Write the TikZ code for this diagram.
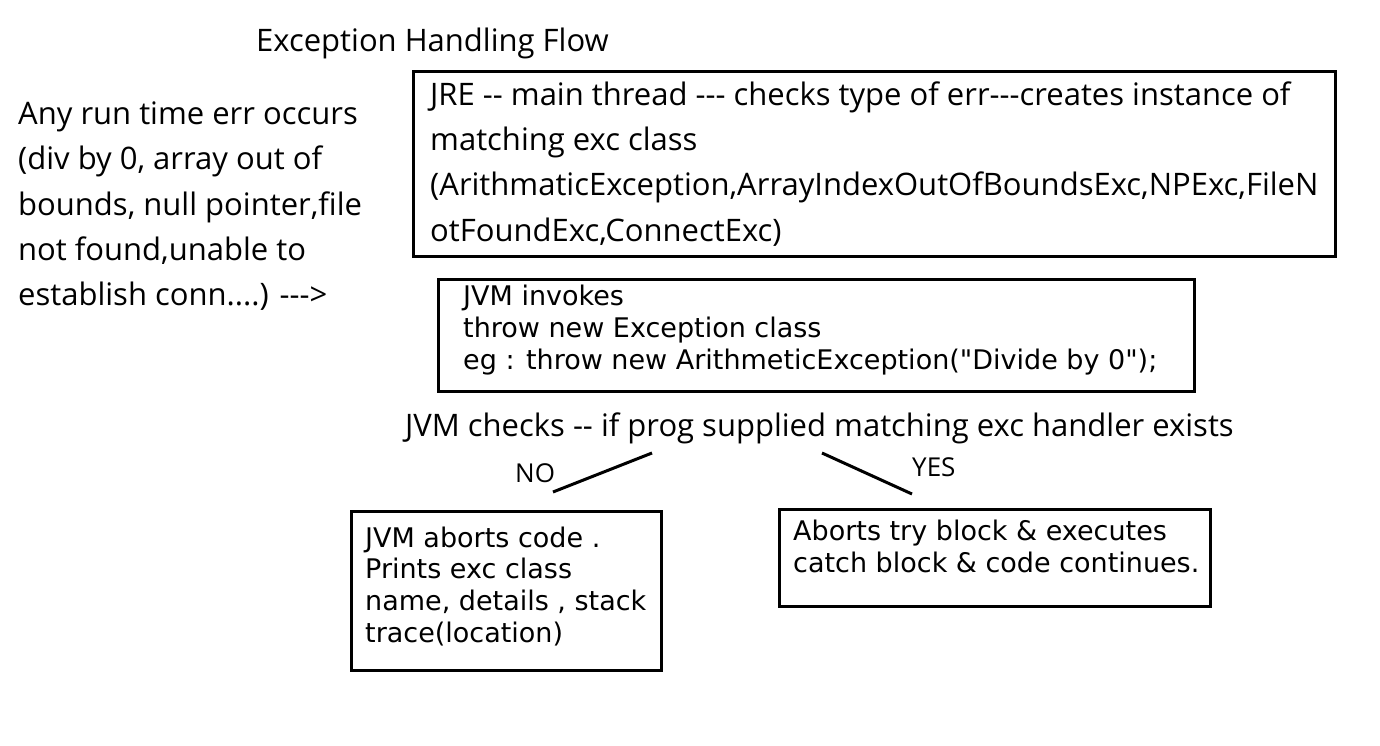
\documentclass[tikz,border=0pt]{standalone}
\usepackage{fontspec}
\setmainfont{Open Sans}[Ligatures=TeXOff]
\newfontfamily\vfont{DejaVu Sans}[Ligatures=TeXOff]
\tikzset{
  big/.style={font=\fontsize{31}{38}\selectfont, anchor=base west, inner sep=0pt},
  lbl/.style={font=\fontsize{26}{30}\selectfont, anchor=base west, inner sep=0pt},
  small/.style={font=\vfont\fontsize{27}{32}\selectfont, anchor=base west, inner sep=0pt},
  boxst/.style={draw, line width=3pt, anchor=north west, inner sep=0pt},
  link/.style={line width=3pt}
}
\begin{document}
\begin{tikzpicture}[x=1pt,y=-1pt]
\useasboundingbox (0,0) rectangle (1380,746);
% title
\node[big] (title) at (256,52) {Exception Handling Flow};
% left text
\node[big] (l1) at (18,125) {Any run time err occurs};
\node[big] (l2) at (18,170) {(div by 0, array out of};
\node[big] (l3) at (18,215) {bounds, null pointer,file};
\node[big] (l4) at (18,260) {not found,unable to};
\node[big] (l5) at (18,305) {establish conn....) --->};
% JRE box
\node[boxst, minimum width=922pt, minimum height=185pt] (jre) at (412,70) {};
\node[big] (j1) at (430,106) {JRE -- main thread --- checks type of err---creates instance of};
\node[big] (j2) at (430,151) {matching exc class};
\node[big] (j3) at (430,196) {(ArithmaticException,ArrayIndexOutOfBoundsExc,NPExc,FileN};
\node[big] (j4) at (430,241) {otFoundExc,ConnectExc)};
% JVM invokes box
\node[boxst, minimum width=756pt, minimum height=112pt] (inv) at (437,278) {};
\node[small] (i1) at (463,305) {JVM invokes};
\node[small] (i2) at (463,337) {throw new Exception class};
\node[small] (i3) at (463,369) {eg : throw new ArithmeticException("Divide by 0");};
% check line
\node[big] (chk) at (405,436) {JVM checks -- if prog supplied matching exc handler exists};
% branches
\coordinate (noa) at (652,453);
\coordinate (nob) at (553,492);
\coordinate (yesa) at (822,453);
\coordinate (yesb) at (912,494);
\draw[link] (noa) -- (nob);
\draw[link] (yesa) -- (yesb);
\node[lbl] (no) at (515,482) {NO};
\node[lbl] (yes) at (912,476) {YES};
% NO box
\node[boxst, minimum width=310pt, minimum height=159pt] (abort) at (350,510) {};
\node[small] (a1) at (365,547) {JVM aborts code .};
\node[small] (a2) at (365,578) {Prints exc class};
\node[small] (a3) at (365,610) {name, details , stack};
\node[small] (a4) at (365,642) {trace(location)};
% YES box
\node[boxst, minimum width=431pt, minimum height=97pt] (catch) at (778,508) {};
\node[small] (c1) at (793,540) {Aborts try block \& executes};
\node[small] (c2) at (793,572) {catch block \& code continues.};
\end{tikzpicture}
\end{document}
